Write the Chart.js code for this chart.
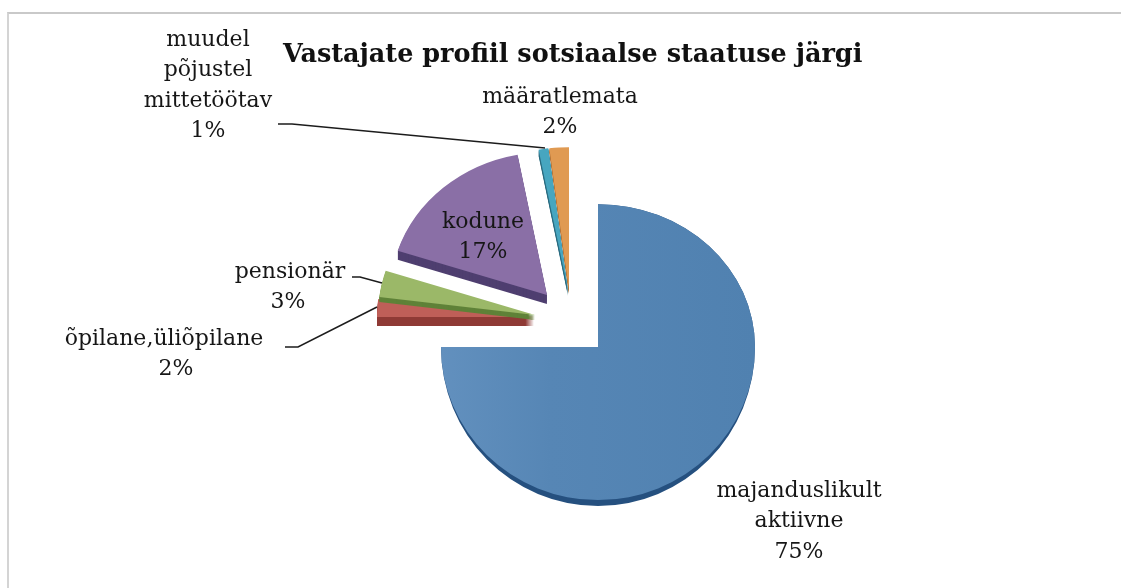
<!DOCTYPE html>
<html>
<head>
<meta charset="utf-8">
<title>Vastajate profiil</title>
<script src="https://cdn.jsdelivr.net/npm/chart.js@4/dist/chart.umd.min.js"></script>
<style>
  html, body { margin: 0; background: #fff; overflow: hidden; }
  #frame { position: absolute; left: 7px; top: 12px; right: 0; bottom: 0; border-top: 2px solid #c9c9c9; border-left: 2px solid #d4d4d4; }
  #profileChart { position: absolute; left: 0; top: 0; }
</style>
</head>
<body>
<div id="frame"></div>
<canvas id="profileChart" width="1121" height="588"></canvas>
<script>
'use strict'

const chartTitle = 'Vastajate profiil sotsiaalse staatuse järgi';
const categories = [['majanduslikult', 'aktiivne'], ['õpilane,üliõpilane'], ['pensionär'], ['kodune'], ['muudel', 'põjustel', 'mittetöötav'], ['määratlemata']];
const shares = [75, 2, 3, 17, 1, 2];

const faceColors = ['#5383b2', '#bf5f58', '#9bb868', '#8a6fa6', '#47a6c0', '#e09a52'];
const sideColors = ['#25507f', '#8f3a35', '#5f8238', '#4f3f70', '#2b6c80', '#a86a30'];
const sideDepth = [6, 9, 5, 9, 6, 4];
// how far each slice is pulled out of the pie
const explode = [[0, 0], [-64, -30], [-63, -32], [-51, -52], [-30, -57], [-29, -57]];

// where each label goes: centre x, first line y, x of the % line
const labelSpots = [
  { x: 799, y: 491, pctX: 799 },
  { x: 164, y: 339, pctX: 176 },
  { x: 290, y: 272, pctX: 288 },
  { x: 483, y: 222, pctX: 483 },
  { x: 208, y: 40, pctX: 208 },
  { x: 560, y: 97, pctX: 560 }
];
const leaders = [
  [[285, 347], [298, 347], [377, 307]],
  [[352, 277], [360, 277], [382, 283]],
  [[278, 124], [292, 124], [545, 148]]
];
const lineGap = 30.5;
const labelFont = '22px "DejaVu Serif"';

// top of the pie is flatter than the bottom, 3D look
function tilted(ctx, arc, stretch, fn) {
  const w = ctx.canvas.width;
  const h = ctx.canvas.height;
  [[0, arc.y, 0.91], [arc.y, h - arc.y, 0.975 + stretch]].forEach(function(part) {
    ctx.save();
    ctx.beginPath();
    ctx.rect(0, part[0], w, part[1]);
    ctx.clip();
    ctx.translate(0, arc.y);
    ctx.scale(1, part[2]);
    ctx.translate(0, -arc.y);
    fn();
    ctx.restore();
  });
}

function sidePath(ctx, arc, color) {
  ctx.fillStyle = color;
  ctx.beginPath();
  ctx.moveTo(arc.x, arc.y);
  ctx.arc(arc.x, arc.y, arc.outerRadius, arc.startAngle, arc.endAngle);
  ctx.closePath();
  ctx.fill();
}

const piePlugin = {
  id: 'pie3d',
  afterDatasetsUpdate: function(chart) {
    chart.getDatasetMeta(0).data.forEach(function(arc, i) {
      arc.x += explode[i][0];
      arc.y += explode[i][1];
    });
  },
  beforeDatasetDraw: function(chart) {
    const ctx = chart.ctx;
    chart.getDatasetMeta(0).data.forEach(function(arc, i) {
      //side of the slice, the big one only shows it along the bottom
      if (i === 0) {
        tilted(ctx, arc, sideDepth[i] / arc.outerRadius, function() {
          sidePath(ctx, arc, sideColors[i]);
        });
      } else {
        for (let d = sideDepth[i]; d >= 1; d--) {
          ctx.save();
          ctx.translate(0, d);
          tilted(ctx, arc, 0, function() {
            sidePath(ctx, arc, sideColors[i]);
          });
          ctx.restore();
        }
      }
      tilted(ctx, arc, 0, function() {
        arc.draw(ctx);
      });
    });
    return false;
  },
  afterDatasetsDraw: function(chart) {
    const ctx = chart.ctx;

    //leader lines
    ctx.save();
    ctx.strokeStyle = '#1c1c1c';
    ctx.lineWidth = 1.5;
    leaders.forEach(function(line) {
      ctx.beginPath();
      line.forEach(function(p, i) {
        if (i === 0) {
          ctx.moveTo(p[0], p[1]);
        } else {
          ctx.lineTo(p[0], p[1]);
        }
      });
      ctx.stroke();
    });
    ctx.restore();

    //labels
    ctx.save();
    ctx.font = labelFont;
    ctx.fillStyle = '#161616';
    ctx.textAlign = 'center';
    ctx.textBaseline = 'middle';
    categories.forEach(function(lines, i) {
      const spot = labelSpots[i];
      lines.forEach(function(text, n) {
        ctx.fillText(text, spot.x, spot.y + n * lineGap);
      });
      ctx.fillText(shares[i] + '%', spot.pctX, spot.y + lines.length * lineGap);
    });
    ctx.restore();
  }
};

const ctx = document.getElementById('profileChart').getContext('2d');
const shareChart = new Chart(ctx, {
  type: 'pie',
  data: {
    labels: categories,
    datasets: [{
      data: shares,
      borderWidth: 0,
      backgroundColor: function(c) {
        if (c.dataIndex === 0) {
          const g = c.chart.ctx.createLinearGradient(441, 0, 755, 0);
          g.addColorStop(0, '#6290be');
          g.addColorStop(0.35, '#5686b5');
          g.addColorStop(1, '#5081b0');
          return g;
        }
        return faceColors[c.dataIndex];
      }
    }]
  },
  options: {
    responsive: false,
    animation: false,
    radius: 157,
    layout: { padding: { left: 283, right: 208, top: 40, bottom: 2 } },
    plugins: {
      legend: { display: false },
      tooltip: { enabled: false },
      title: {
        display: true,
        text: chartTitle,
        align: 'start',
        color: '#111',
        font: { family: '"DejaVu Serif"', size: 25.5, weight: 'bold', lineHeight: 1.2 },
        padding: { top: 0, bottom: 37.4 }
      }
    }
  },
  plugins: [piePlugin]
});
</script>
</body>
</html>
